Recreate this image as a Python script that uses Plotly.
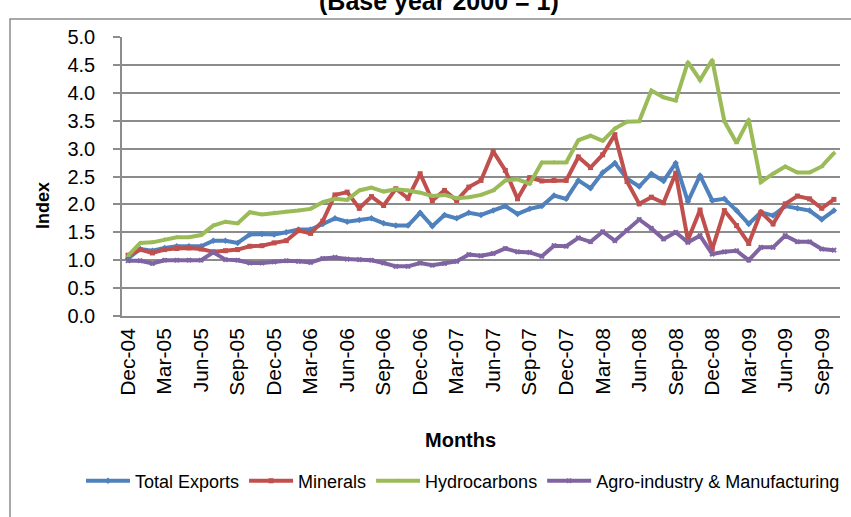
"""Export price index by sector, monthly Dec-04 to Oct-09 (base year 2000 = 1)."""

import pandas as pd
import plotly.graph_objects as go

# ---------------------------------------------------------------------------
# Data
# ---------------------------------------------------------------------------
MONTHS = list(pd.date_range("2004-12-01", periods=59, freq="MS").strftime("%b-%y"))

TICK_LABELS = [
    "Dec-04", "Mar-05", "Jun-05", "Sep-05", "Dec-05", "Mar-06", "Jun-06",
    "Sep-06", "Dec-06", "Mar-07", "Jun-07", "Sep-07", "Dec-07", "Mar-08",
    "Jun-08", "Sep-08", "Dec-08", "Mar-09", "Jun-09", "Sep-09",
]

TOTAL_EXPORTS = [
    1.03, 1.20, 1.17, 1.22, 1.25, 1.25, 1.25, 1.35, 1.35, 1.31,
    1.46, 1.47, 1.46, 1.50, 1.55, 1.55, 1.65, 1.75, 1.69, 1.72,
    1.75, 1.66, 1.62, 1.62, 1.85, 1.61, 1.81, 1.75, 1.85, 1.81,
    1.89, 1.97, 1.83, 1.92, 1.97, 2.16, 2.10, 2.43, 2.29, 2.57,
    2.74, 2.46, 2.32, 2.55, 2.42, 2.74, 2.05, 2.52, 2.07, 2.10,
    1.89, 1.65, 1.86, 1.80, 1.97, 1.93, 1.89, 1.73, 1.89,
]

MINERALS = [
    1.09, 1.19, 1.13, 1.19, 1.21, 1.22, 1.20, 1.15, 1.17, 1.19,
    1.25, 1.26, 1.31, 1.35, 1.53, 1.48, 1.70, 2.17, 2.22, 1.93,
    2.14, 1.98, 2.28, 2.11, 2.55, 2.07, 2.25, 2.07, 2.31, 2.43,
    2.95, 2.61, 2.10, 2.48, 2.42, 2.43, 2.43, 2.85, 2.66, 2.89,
    3.25, 2.41, 2.01, 2.13, 2.03, 2.56, 1.36, 1.90, 1.20, 1.89,
    1.62, 1.30, 1.86, 1.65, 2.01, 2.15, 2.10, 1.93, 2.09,
]

HYDROCARBONS = [
    1.08, 1.31, 1.32, 1.37, 1.41, 1.41, 1.45, 1.62, 1.69, 1.66,
    1.86, 1.82, 1.85, 1.87, 1.89, 1.92, 2.04, 2.10, 2.08, 2.25,
    2.30, 2.23, 2.27, 2.25, 2.21, 2.15, 2.17, 2.11, 2.13, 2.17,
    2.25, 2.43, 2.45, 2.37, 2.75, 2.75, 2.75, 3.15, 3.23, 3.14,
    3.36, 3.48, 3.49, 4.04, 3.92, 3.86, 4.55, 4.23, 4.59, 3.49,
    3.10, 3.52, 2.40, 2.55, 2.68, 2.57, 2.57, 2.68, 2.92,
]

AGRO_MANUFACTURING = [
    0.99, 0.99, 0.94, 1.00, 1.00, 1.00, 1.00, 1.14, 1.01, 1.00,
    0.95, 0.95, 0.97, 0.99, 0.98, 0.96, 1.03, 1.05, 1.02, 1.01,
    1.00, 0.95, 0.89, 0.89, 0.95, 0.91, 0.94, 0.98, 1.10, 1.08,
    1.12, 1.21, 1.15, 1.14, 1.07, 1.26, 1.25, 1.40, 1.33, 1.51,
    1.35, 1.53, 1.73, 1.57, 1.38, 1.50, 1.32, 1.44, 1.11, 1.15,
    1.17, 1.00, 1.23, 1.23, 1.44, 1.33, 1.33, 1.20, 1.18,
]

SERIES = [
    ("Total Exports", TOTAL_EXPORTS, "#4F81BD", "diamond"),
    ("Minerals", MINERALS, "#C0504D", "square"),
    ("Hydrocarbons", HYDROCARBONS, "#9BBB59", "triangle-up"),
    ("Agro-industry & Manufacturing", AGRO_MANUFACTURING, "#8064A2", "x"),
]

FONT = "Liberation Sans, Arial, sans-serif"
GRID = "#8C8C8C"

# ---------------------------------------------------------------------------
# Figure
# ---------------------------------------------------------------------------
W, H = 851, 517
L, R, T, B = 122, 11, 37, 201
PW, PH = W - L - R, H - T - B


def px_x(x):
    return (x - L) / PW


def px_y(y):
    return (H - B - y) / PH


fig = go.Figure()
for name, values, colour, symbol in SERIES:
    fig.add_trace(
        go.Scatter(
            x=MONTHS,
            y=values,
            mode="lines+markers",
            name=name,
            line=dict(color=colour, width=4),
            marker=dict(symbol=symbol, size=5, color=colour),
        )
    )

fig.update_layout(
    width=W,
    height=H,
    margin=dict(l=L, r=R, t=T, b=B),
    paper_bgcolor="white",
    plot_bgcolor="white",
    font=dict(family=FONT, color="black", size=18),
    showlegend=True,
    legend=dict(
        orientation="h",
        x=px_x(81),
        xanchor="left",
        y=px_y(481),
        yanchor="middle",
        font=dict(size=18),
        itemwidth=44,
        tracegroupgap=0,
    ),
    xaxis=dict(
        type="category",
        categoryorder="array",
        categoryarray=MONTHS,
        range=[-0.5, len(MONTHS) - 0.5],
        tickvals=TICK_LABELS,
        ticktext=TICK_LABELS,
        tickangle=-90,
        ticks="",
        ticklabelstandoff=2,
        tickfont=dict(size=21),
        showgrid=False,
        showline=True,
        linecolor=GRID,
        linewidth=1.5,
        zeroline=False,
    ),
    yaxis=dict(
        range=[0, 5],
        dtick=0.5,
        tickformat=".1f",
        tickfont=dict(size=20),
        ticks="outside",
        ticklen=7,
        tickcolor=GRID,
        tickwidth=1.5,
        ticklabelstandoff=14,
        showgrid=True,
        gridcolor=GRID,
        gridwidth=1.5,
        showline=True,
        linecolor=GRID,
        linewidth=1.5,
        zeroline=False,
    ),
    annotations=[
        dict(
            text="<b>(Base year 2000 = 1)</b>",
            xref="paper", yref="paper",
            x=px_x(439), y=px_y(1),
            xanchor="center", yanchor="middle",
            showarrow=False,
            font=dict(size=25),
        ),
        dict(
            text="<b>Index</b>",
            xref="paper", yref="paper",
            x=px_x(43), y=px_y(206),
            xanchor="center", yanchor="middle",
            textangle=-90,
            showarrow=False,
            font=dict(size=18),
        ),
        dict(
            text="<b>Months</b>",
            xref="paper", yref="paper",
            x=px_x(460), y=px_y(440),
            xanchor="center", yanchor="middle",
            showarrow=False,
            font=dict(size=20),
        ),
    ],
    shapes=[
        # outer chart border (runs off the right and bottom of the crop)
        dict(
            type="rect",
            xref="paper", yref="paper",
            x0=px_x(10), x1=px_x(W + 20),
            y0=px_y(H + 20), y1=px_y(19),
            line=dict(color=GRID, width=1.5),
            layer="above",
        ),
    ],
)

# drop the browser's default 8px body margin so the chart sits at the page corner
fig.write_html(
    "out.html",
    config={"displayModeBar": False},
    post_script="document.body.style.margin = '0';",
)
